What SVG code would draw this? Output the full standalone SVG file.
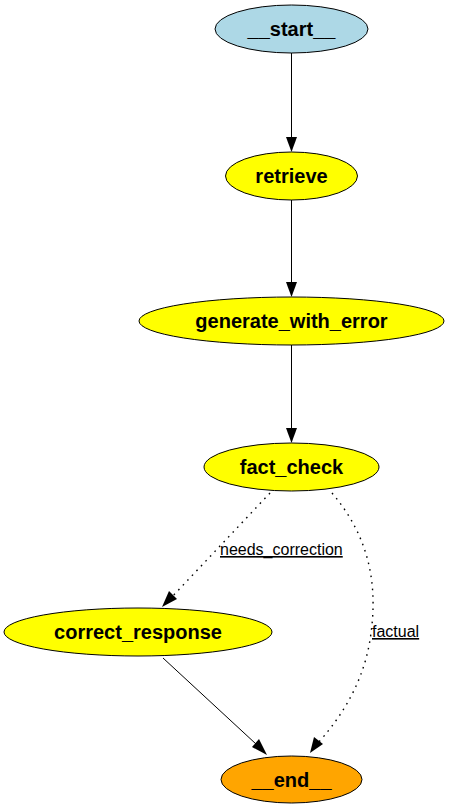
<svg xmlns="http://www.w3.org/2000/svg" width="449" height="809" viewBox="0 0 449 809">
<defs>
<style>
.n ellipse{stroke:#000;stroke-width:1}
.n text{font-family:"Liberation Sans",Arial,sans-serif;font-weight:bold;font-size:20px;text-anchor:middle;fill:#000}
.e{fill:none;stroke:#000;stroke-width:1}
.d{stroke-width:1.4;stroke-dasharray:1.6 5}
.lbl{font-family:"Liberation Sans",Arial,sans-serif;font-size:16px;fill:#000;text-decoration:underline}
</style>
</defs>
<rect width="449" height="809" fill="#fff"/>
<g id="edges">
<path class="e" d="M291.5,53 L291.5,138"/>
<path class="e" d="M291.5,200 L291.5,283"/>
<path class="e" d="M291.5,345 L291.5,429"/>
<path class="e d" d="M270,493 L170,599"/>
<path class="e d" d="M332,493 C372,540 378,590 370,640 C362,690 334,725 318,743"/>
<path class="e" d="M163,658 L256,744"/>
<g id="arrowheads" fill="#000">
<path d="M286,137 L297,137 L291.5,152 Z"/>
<path d="M286,282 L297,282 L291.5,297 Z"/>
<path d="M286,428 L297,428 L291.5,443 Z"/>
<path d="M162,607 L169,591 L177,599 Z"/>
<path d="M310,753 L314,737 L323,744 Z"/>
<path d="M267,755 L252,747 L259,739 Z"/>
</g>
</g>
<g id="labels">
<text class="lbl" x="220" y="555">needs_correction</text>
<text class="lbl" x="372" y="637">factual</text>
</g>
<g id="start" class="n"><ellipse cx="291.5" cy="29" rx="76.5" ry="24" fill="#add8e6"/><text x="291.5" y="36">__start__</text></g>
<g id="retrieve" class="n"><ellipse cx="291.5" cy="176" rx="66" ry="24" fill="#ffff00"/><text x="291.5" y="183">retrieve</text></g>
<g id="generate_with_error" class="n"><ellipse cx="291.5" cy="321" rx="152.5" ry="24" fill="#ffff00"/><text x="291.5" y="328">generate_with_error</text></g>
<g id="fact_check" class="n"><ellipse cx="291.5" cy="467" rx="87.5" ry="24" fill="#ffff00"/><text x="291.5" y="474">fact_check</text></g>
<g id="correct_response" class="n"><ellipse cx="138" cy="632" rx="134" ry="24" fill="#ffff00"/><text x="138" y="639">correct_response</text></g>
<g id="end" class="n"><ellipse cx="291.5" cy="779.5" rx="70.5" ry="23.5" fill="#ffa500"/><text x="291.5" y="786.5">__end__</text></g>
</svg>
